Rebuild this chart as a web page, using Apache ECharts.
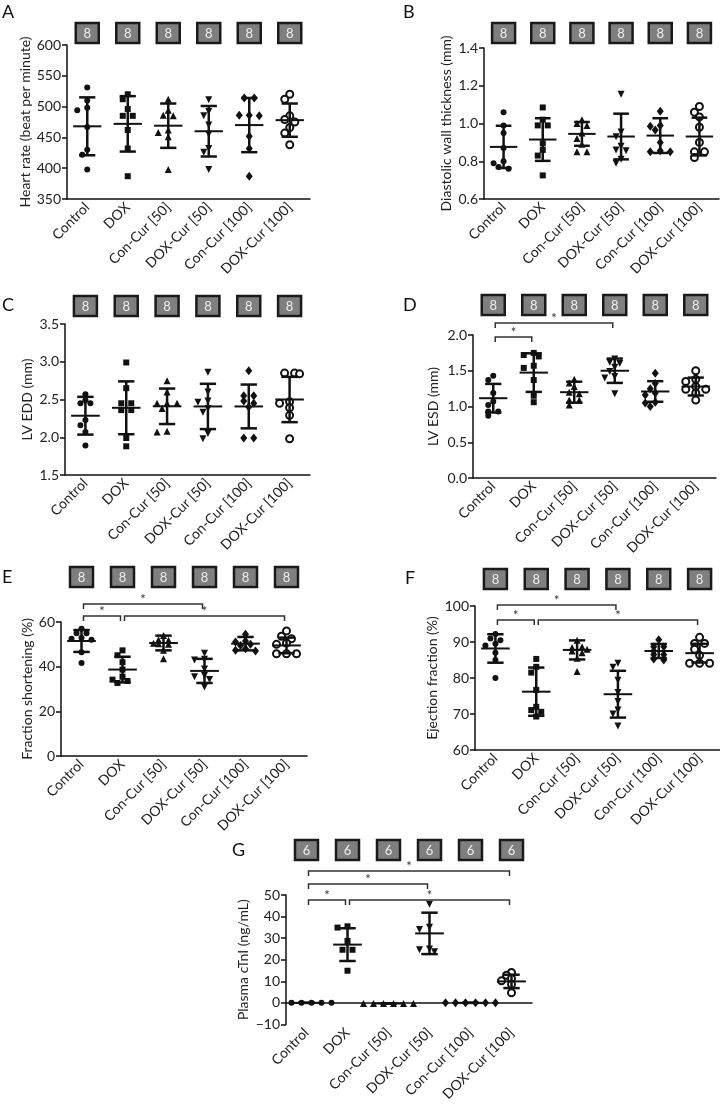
<!DOCTYPE html>
<html>
<head>
<meta charset="utf-8">
<script src="https://cdn.jsdelivr.net/npm/echarts@6/dist/echarts.min.js"></script>
<style>
html, body { margin: 0; padding: 0; background: #fff; }
#main { width: 720px; height: 1104px; }
</style>
</head>
<body>
<div id="main"></div>
<script>
// ---- data ----
var groups = ['Control', 'DOX', 'Con-Cur [50]', 'DOX-Cur [50]', 'Con-Cur [100]', 'DOX-Cur [100]'];

// A: heart rate (beat per minute)
var heartRate = [
    [531, 510, 498, 494, 467, 430, 422, 398],
    [520, 512, 496, 485, 485, 462, 432, 387],
    [512, 494, 486, 485, 462, 458, 451, 398],
    [511, 492, 485, 470, 455, 432, 426, 398],
    [514, 514, 486, 486, 485, 452, 432, 387],
    [520, 512, 485, 479, 475, 466, 457, 438]
];
var heartRateMean = [468, 472, 469, 460, 470, 478];
var heartRateSd = [47, 45, 36, 41, 44, 27];
var heartRateN = [8, 8, 8, 8, 8, 8];

// B: diastolic wall thickness (mm)
var wallThick = [
    [1.06, 0.99, 0.95, 0.87, 0.80, 0.79, 0.77, 0.76],
    [1.085, 1.02, 0.99, 0.99, 0.895, 0.86, 0.83, 0.725],
    [1.02, 1.00, 0.99, 0.95, 0.92, 0.89, 0.85, 0.85],
    [1.155, 0.955, 0.93, 0.88, 0.86, 0.855, 0.81, 0.79],
    [1.065, 0.99, 0.985, 0.965, 0.90, 0.855, 0.85, 0.85],
    [1.09, 1.06, 1.035, 0.98, 0.90, 0.85, 0.85, 0.82]
];
var wallThickMean = [0.876, 0.915, 0.945, 0.931, 0.936, 0.931];
var wallThickSd = [0.112, 0.113, 0.063, 0.121, 0.092, 0.1];
var wallThickN = [8, 8, 8, 8, 8, 8];

// C: LV EDD (mm)
var lvEdd = [
    [2.57, 2.49, 2.45, 2.45, 2.23, 2.16, 2.07, 1.89],
    [2.99, 2.65, 2.45, 2.45, 2.36, 2.36, 1.99, 1.88],
    [2.75, 2.60, 2.45, 2.45, 2.45, 2.38, 2.08, 2.07],
    [2.86, 2.60, 2.48, 2.465, 2.38, 2.33, 2.05, 1.98],
    [2.88, 2.55, 2.55, 2.48, 2.45, 2.40, 1.99, 1.99],
    [2.85, 2.85, 2.84, 2.47, 2.45, 2.39, 2.29, 1.98]
];
var lvEddMean = [2.285, 2.39, 2.41, 2.408, 2.408, 2.50];
var lvEddSd = [0.25, 0.35, 0.235, 0.30, 0.29, 0.30];
var lvEddN = [8, 8, 8, 8, 8, 8];

// D: LV ESD (mm)
var lvEsd = [
    [1.43, 1.37, 1.19, 1.07, 1.02, 0.93, 0.93, 0.87],
    [1.75, 1.72, 1.70, 1.57, 1.54, 1.37, 1.15, 1.06],
    [1.38, 1.33, 1.28, 1.20, 1.18, 1.09, 1.09, 1.02],
    [1.665, 1.62, 1.60, 1.55, 1.49, 1.42, 1.40, 1.18],
    [1.465, 1.32, 1.25, 1.19, 1.16, 1.06, 1.05, 1.00],
    [1.50, 1.38, 1.35, 1.28, 1.24, 1.24, 1.19, 1.09]
];
var lvEsdMean = [1.116, 1.474, 1.20, 1.50, 1.21, 1.279];
var lvEsdSd = [0.2, 0.27, 0.147, 0.17, 0.144, 0.125];
var lvEsdN = [8, 8, 8, 8, 8, 8];
var lvEsdSig = [[0, 1, 0], [0, 3, 1]];

// E: fraction shortening (%)
var fracShort = [
    [57, 55, 55, 53, 52.5, 52, 46.5, 41.6],
    [47.3, 45.1, 42, 38.7, 35.5, 34.2, 33.6, 32.7],
    [54, 52, 51.8, 50.5, 50.3, 50, 47.3, 43.6],
    [46, 43.3, 43, 39, 36, 35.5, 34.2, 30.9],
    [54.5, 51.5, 51, 50, 49.5, 48, 47.3, 47],
    [56, 53.6, 52.5, 50.6, 50, 45.8, 45.8, 45.8]
];
var fracShortMean = [51.5, 38.7, 50.6, 38.1, 50.3, 49.5];
var fracShortSd = [4.9, 5.75, 3.3, 5.4, 3.0, 3.5];
var fracShortN = [8, 8, 8, 8, 8, 8];
var fracShortSig = [[0, 1, 0], [1, 5, 0], [0, 3, 1]];

// F: ejection fraction (%)
var ejFrac = [
    [92.2, 91, 90.5, 89.5, 89, 87, 85, 80],
    [85.3, 83.1, 81.5, 76.7, 72, 71.1, 70.6, 69.3],
    [90.5, 88.7, 88.5, 88, 87.5, 87, 85.5, 81.8],
    [84.1, 83, 79.4, 76, 73.5, 71.1, 70, 66.7],
    [90.6, 88.7, 88.7, 87.5, 86.5, 86.5, 85.3, 85],
    [91.3, 89.6, 89.6, 88, 86.3, 84.1, 84.1, 84.1]
];
var ejFracMean = [88.2, 76.2, 87.8, 75.5, 87.5, 86.9];
var ejFracSd = [3.95, 6.7, 2.65, 6.5, 1.95, 2.6];
var ejFracN = [8, 8, 8, 8, 8, 8];
var ejFracSig = [[0, 1, 0], [1, 5, 0], [0, 3, 1]];

// G: plasma cTnI (ng/mL)
var ctni = [
    [0, 0, 0, 0, 0, 0],
    [35.5, 34.9, 28.7, 24.6, 24.6, 14.9],
    [-0.3, -0.3, -0.3, -0.3, -0.3, -0.3],
    [45.7, 35.1, 34.0, 25.0, 24.6, 23.7],
    [0, 0, 0, 0, 0, 0],
    [14.1, 12.8, 11.3, 10.2, 8.6, 4.7]
];
var ctniMean = [0, 27.0, -0.3, 32.2, 0, 9.94];
var ctniSd = [0, 7.6, 0, 9.6, 0, 3.1];
var ctniN = [6, 6, 6, 6, 6, 6];
var ctniSig = [[0, 1, 0], [1, 5, 0], [0, 3, 1], [0, 5, 2]];

// ---- layout ----
var FONT = 'Lato, "Noto Sans", sans-serif';
var INK = '#111';
var BOX_W = 23, BOX_H = 20;
var STEP = 5, DIST = 5.8; // swarm spacing in px

var symbols = [
    {symbol: 'circle', size: 6},
    {symbol: 'rect', size: 6},
    {symbol: 'triangle', size: 7},
    {symbol: 'triangle', size: 7, rotate: 180},
    {symbol: 'diamond', size: [7, 9]},
    {symbol: 'emptyCircle', size: 7, border: 1.8}
];

var panels = [
    {letter: 'A', lx: 2, ly: 3, vals: heartRate, mean: heartRateMean, sd: heartRateSd, n: heartRateN, sig: [],
        name: 'Heart rate (beat per minute)', min: 350, max: 600, interval: 50, dec: 0,
        grid: {left: 67, top: 45, width: 243, height: 154}, nameGap: 33, boxGap: 2, tiers: []},
    {letter: 'B', lx: 403, ly: 3, vals: wallThick, mean: wallThickMean, sd: wallThickSd, n: wallThickN, sig: [],
        name: 'Diastolic wall thickness (mm)', min: 0.6, max: 1.4, interval: 0.2, dec: 1,
        grid: {left: 484, top: 48, width: 235, height: 151}, nameGap: 31, boxGap: 5, tiers: []},
    {letter: 'C', lx: 2, ly: 296, vals: lvEdd, mean: lvEddMean, sd: lvEddSd, n: lvEddN, sig: [],
        name: 'LV EDD (mm)', min: 1.5, max: 3.5, interval: 0.5, dec: 1,
        grid: {left: 65, top: 324, width: 245, height: 151}, nameGap: 31, boxGap: 8, tiers: []},
    {letter: 'D', lx: 403, ly: 296, vals: lvEsd, mean: lvEsdMean, sd: lvEsdSd, n: lvEsdN, sig: lvEsdSig,
        name: 'LV ESD (mm)', min: 0, max: 2.0, interval: 0.5, dec: 1,
        grid: {left: 473, top: 335, width: 243, height: 143}, nameGap: 33, boxGap: 20, tiers: [2, -12]},
    {letter: 'E', lx: 2, ly: 568, vals: fracShort, mean: fracShortMean, sd: fracShortSd, n: fracShortN, sig: fracShortSig,
        name: 'Fraction shortening (%)', min: 0, max: 60, interval: 20, dec: 0,
        grid: {left: 61, top: 622, width: 246, height: 134}, nameGap: 24, boxGap: 35, tiers: [-6, -18]},
    {letter: 'F', lx: 405, ly: 569, vals: ejFrac, mean: ejFracMean, sd: ejFracSd, n: ejFracN, sig: ejFracSig,
        name: 'Ejection fraction (%)', min: 60, max: 100, interval: 10, dec: 0,
        grid: {left: 475, top: 606, width: 245, height: 144}, nameGap: 36, boxGap: 17, tiers: [14, -1]},
    {letter: 'G', lx: 232, ly: 841, vals: ctni, mean: ctniMean, sd: ctniSd, n: ctniN, sig: ctniSig,
        name: 'Plasma cTnI (ng/mL)', min: -10, max: 50, interval: 10, dec: 0,
        grid: {left: 286, top: 895, width: 246, height: 152}, nameGap: 36, boxGap: 35, tiers: [5, -11, -24]}
];

// spread overlapping points sideways, like a column scatter plot
function swarm(vals, pxPerUnit, bandPx) {
    var placed = [];
    var out = [];
    var order = vals.map(function (v, i) { return i; }).sort(function (a, b) { return vals[b] - vals[a]; });
    order.forEach(function (i) {
        var y = vals[i] * pxPerUnit;
        for (var k = 0; k < 30; k++) {
            var slot = k === 0 ? 0 : (k % 2 ? -Math.ceil(k / 2) : Math.ceil(k / 2));
            var x = slot * STEP;
            var ok = placed.every(function (p) { return Math.hypot(p.x - x, p.y - y) >= DIST; });
            if (ok) {
                placed.push({x: x, y: y, i: i});
                break;
            }
        }
    });
    // centre rows of tied values
    var rows = {};
    placed.forEach(function (p) {
        var key = Math.round(p.y);
        (rows[key] = rows[key] || []).push(p);
    });
    Object.keys(rows).forEach(function (key) {
        var row = rows[key];
        var shift = 0;
        if (row.length > 1) {
            row.forEach(function (p) { shift += p.x; });
            shift /= row.length;
        }
        row.forEach(function (p) { out[p.i] = (p.x - shift) / bandPx; });
    });
    return out;
}

function errRender(params, api) {
    var i = api.value(0), m = api.value(1), s = api.value(2);
    var c = api.coord([i, m]);
    var hi = api.coord([i, m + s]);
    var lo = api.coord([i, m - s]);
    var band = api.size([1, 0])[0];
    var mw = band * 0.35, cw = band * 0.2;
    var st = {stroke: INK, lineWidth: 2.5};
    return {
        type: 'group', children: [
            {type: 'line', shape: {x1: c[0], y1: hi[1], x2: c[0], y2: lo[1]}, style: st},
            {type: 'line', shape: {x1: c[0] - cw, y1: hi[1], x2: c[0] + cw, y2: hi[1]}, style: st},
            {type: 'line', shape: {x1: c[0] - cw, y1: lo[1], x2: c[0] + cw, y2: lo[1]}, style: st},
            {type: 'line', shape: {x1: c[0] - mw, y1: c[1], x2: c[0] + mw, y2: c[1]}, style: {stroke: INK, lineWidth: 2}}
        ]
    };
}

function boxRender(p) {
    return function (params, api) {
        var x = api.coord([api.value(0), p.min])[0];
        var y = params.coordSys.y - p.boxGap - BOX_H;
        return {
            type: 'group', children: [
                {type: 'rect', shape: {x: x - BOX_W / 2, y: y, width: BOX_W, height: BOX_H},
                    style: {fill: '#7f7f7f', stroke: '#1a1a1a', lineWidth: 2.5}},
                {type: 'text', style: {text: String(api.value(1)), x: x, y: y + BOX_H / 2 + 1, align: 'center',
                    verticalAlign: 'middle', fill: '#eeeeee', font: '13px ' + FONT}}
            ]
        };
    };
}

function bracketRender(p) {
    return function (params, api) {
        var xa = api.coord([api.value(0), p.min])[0] + 2;
        var xb = api.coord([api.value(1), p.min])[0] - 2;
        var y = params.coordSys.y + p.tiers[api.value(2)];
        return {
            type: 'group', children: [
                {type: 'polyline', shape: {points: [[xa, y + 5], [xa, y], [xb, y], [xb, y + 5]]},
                    style: {stroke: '#333', lineWidth: 1.5, fill: null}},
                {type: 'text', style: {text: '*', x: (xa + xb) / 2, y: y + 2, align: 'center',
                    verticalAlign: 'bottom', fill: '#333', font: '13px ' + FONT}}
            ]
        };
    };
}

var option = {
    animation: false,
    backgroundColor: '#fff',
    title: [], grid: [], xAxis: [], yAxis: [], series: []
};

panels.forEach(function (p, pi) {
    var valX = pi * 2 + 1;
    option.title.push({text: p.letter, left: p.lx, top: p.ly, padding: 0,
        textStyle: {fontFamily: FONT, fontSize: 18, fontWeight: 'normal', color: INK}});
    option.grid.push({left: p.grid.left, top: p.grid.top, width: p.grid.width, height: p.grid.height});
    option.xAxis.push({
        type: 'category', gridIndex: pi, data: groups,
        axisLine: {onZeroAxisIndex: pi, lineStyle: {color: INK, width: 1.5}},
        axisTick: {alignWithLabel: true, length: 5, lineStyle: {color: INK, width: 1.5}},
        axisLabel: {rotate: 45, interval: 0, margin: 6, fontSize: 14, color: '#222', fontFamily: FONT}
    });
    option.xAxis.push({type: 'value', gridIndex: pi, min: -0.5, max: 5.5, show: false});
    option.yAxis.push({
        type: 'value', gridIndex: pi, min: p.min, max: p.max, interval: p.interval,
        name: p.name, nameLocation: 'middle', nameGap: p.nameGap,
        nameTextStyle: {fontSize: 14, color: '#222', fontFamily: FONT},
        axisLine: {show: true, onZero: false, lineStyle: {color: INK, width: 1.5}},
        axisTick: {show: true, length: 5, lineStyle: {color: INK, width: 1.5}},
        splitLine: {show: false},
        axisLabel: {margin: 6, fontSize: 14, color: '#222', fontFamily: FONT,
            formatter: function (v) { return v.toFixed(p.dec).replace('-', '\u2212'); }}
    });

    var pxPerUnit = p.grid.height / (p.max - p.min);
    var bandPx = p.grid.width / groups.length;
    p.vals.forEach(function (vals, g) {
        var off = swarm(vals, pxPerUnit, bandPx);
        var s = symbols[g];
        option.series.push({
            type: 'scatter', xAxisIndex: valX, yAxisIndex: pi, silent: true, z: 2,
            symbol: s.symbol, symbolSize: s.size, symbolRotate: s.rotate || 0,
            itemStyle: {color: INK, borderColor: INK, borderWidth: s.border || 0, opacity: 1},
            data: vals.map(function (v, k) { return [g + off[k], v]; })
        });
    });
    option.series.push({
        type: 'custom', xAxisIndex: valX, yAxisIndex: pi, silent: true, z: 3, clip: false,
        renderItem: errRender,
        data: p.mean.map(function (m, g) { return [g, m, p.sd[g]]; })
    });
    option.series.push({
        type: 'custom', xAxisIndex: valX, yAxisIndex: pi, silent: true, z: 4, clip: false,
        renderItem: boxRender(p),
        data: p.n.map(function (n, g) { return [g, n]; })
    });
    if (p.sig.length) {
        option.series.push({
            type: 'custom', xAxisIndex: valX, yAxisIndex: pi, silent: true, z: 4, clip: false,
            renderItem: bracketRender(p),
            data: p.sig
        });
    }
});

var chart = echarts.init(document.getElementById('main'), null, {renderer: 'canvas'});
chart.setOption(option);
</script>
</body>
</html>
